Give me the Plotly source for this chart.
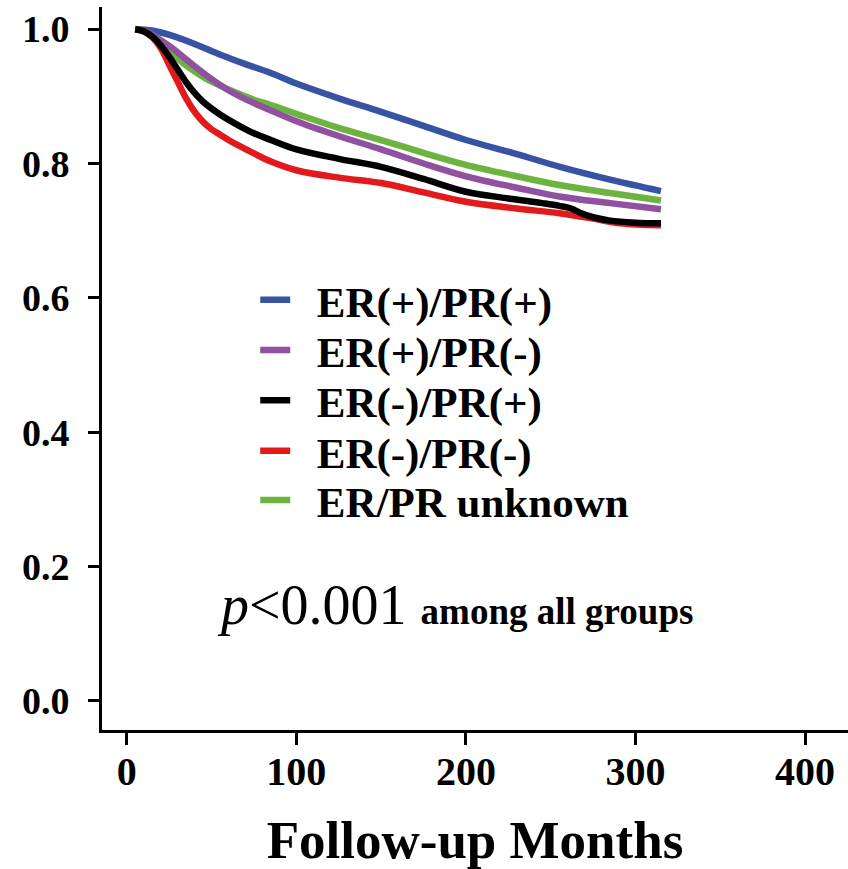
import plotly.graph_objects as go

# ---- data ----
series_names = ["ER(+)/PR(+)", "ER(+)/PR(-)", "ER(-)/PR(+)", "ER(-)/PR(-)", "ER/PR unknown"]
series_colors = ["#3953A4", "#9151A1", "#000000", "#E31A1C", "#6CB33F"]

blue_months = [5, 15, 25.7, 40, 55.2, 70, 84.6, 100, 125, 150, 175, 200, 230, 255.5, 285, 315]
blue_surv = [1.0, 0.998, 0.991, 0.978, 0.962, 0.948, 0.935, 0.919, 0.897, 0.877, 0.856, 0.835, 0.814, 0.795, 0.776, 0.759]

purple_months = [5, 12, 18, 25.7, 35, 45, 55, 65, 75, 85, 100, 125, 150, 175, 200, 230, 255, 285, 315]
purple_surv = [1.0, 0.996, 0.987, 0.974, 0.955, 0.935, 0.917, 0.902, 0.890, 0.879, 0.863, 0.841, 0.821, 0.800, 0.781, 0.764, 0.751, 0.741, 0.732]

black_months = [5, 10, 15, 20, 25, 30, 35, 40, 45, 55, 65, 75, 85, 100, 125, 150, 175, 200, 225, 245, 255, 262, 268, 275, 285, 300, 315]
black_surv = [1.0, 0.997, 0.989, 0.976, 0.959, 0.940, 0.921, 0.905, 0.892, 0.873, 0.858, 0.845, 0.835, 0.821, 0.807, 0.795, 0.777, 0.758, 0.748, 0.741, 0.737, 0.733, 0.726, 0.720, 0.715, 0.712, 0.711]

red_months = [5, 10, 15, 20, 25, 30, 35, 40, 45, 50, 55, 60, 65, 75, 85, 100, 125, 150, 175, 200, 230, 255, 275, 291, 315]
red_surv = [1.0, 0.997, 0.988, 0.972, 0.947, 0.922, 0.897, 0.877, 0.862, 0.851, 0.843, 0.835, 0.828, 0.815, 0.803, 0.790, 0.779, 0.771, 0.757, 0.743, 0.733, 0.726, 0.718, 0.711, 0.708]

green_months = [5, 12, 18, 25.7, 35, 45, 55, 65, 75, 85, 100, 125, 150, 175, 200, 230, 255, 285, 315]
green_surv = [1.0, 0.994, 0.982, 0.966, 0.946, 0.929, 0.916, 0.905, 0.895, 0.887, 0.874, 0.853, 0.835, 0.816, 0.798, 0.781, 0.768, 0.756, 0.745]

x_ticks = [0, 100, 200, 300, 400]
y_ticks = [0.0, 0.2, 0.4, 0.6, 0.8, 1.0]

FONT = "Liberation Serif, Times New Roman, serif"

# draw order (black on top of red, purple on top of green)
series = [
    (blue_months, blue_surv, 0),
    (green_months, green_surv, 4),
    (purple_months, purple_surv, 1),
    (red_months, red_surv, 3),
    (black_months, black_surv, 2),
]

# one legend per row so rows can be spaced like the reference
legend_rows_y = [0.595, 0.5255, 0.456, 0.386, 0.318]

fig = go.Figure()
for xs, ys, idx in series:
    lg = "legend" if idx == 0 else f"legend{idx + 1}"
    fig.add_trace(go.Scatter(
        x=xs, y=ys, mode="lines", name="&nbsp;&nbsp;" + series_names[idx],
        line=dict(color=series_colors[idx], width=6.5, shape="spline", smoothing=1.0),
        legend=lg,
    ))

legend_layout = {}
for i, ly in enumerate(legend_rows_y):
    key = "legend" if i == 0 else f"legend{i + 1}"
    legend_layout[key] = dict(
        x=0.2054, y=ly, xanchor="left", yanchor="middle",
        bgcolor="rgba(0,0,0,0)", borderwidth=0,
        font=dict(family=FONT, size=43, color="black", weight="bold"),
        itemwidth=30,
    )

fig.update_layout(
    width=848, height=869,
    margin=dict(l=102, r=0, t=7, b=139),
    paper_bgcolor="white", plot_bgcolor="white",
    font=dict(family=FONT, color="black", size=40, weight="bold"),
    showlegend=True,
    **legend_layout,
)

fig.update_xaxes(
    range=[-14.6, 425.3], tickvals=x_ticks,
    showline=True, linewidth=3, linecolor="black",
    ticks="outside", ticklen=12, tickwidth=3, tickcolor="black",
    showgrid=False, zeroline=False,
    tickfont=dict(family=FONT, size=40, weight="bold"),
    ticklabelstandoff=-8,
    title=dict(text="Follow-up Months", font=dict(family=FONT, size=53, weight="bold"), standoff=34),
)
fig.update_yaxes(
    range=[-0.0433, 1.033], tickvals=y_ticks, tickformat=".1f",
    showline=True, linewidth=3, linecolor="black",
    ticks="outside", ticklen=11, tickwidth=3, tickcolor="black",
    showgrid=False, zeroline=False,
    tickfont=dict(family=FONT, size=38, weight="bold"),
    ticklabelstandoff=11,
)

fig.add_annotation(
    x=52, y=0.143, xref="x", yref="y", xanchor="left", yanchor="middle",
    showarrow=False,
    text="<i>p</i><span style='font-weight:normal'>&lt;0.001</span> <b><span style='font-size:37px'>among all groups</span></b>",
    font=dict(family=FONT, size=56, color="black", weight="normal"),
)

fig.write_html("out.html")
